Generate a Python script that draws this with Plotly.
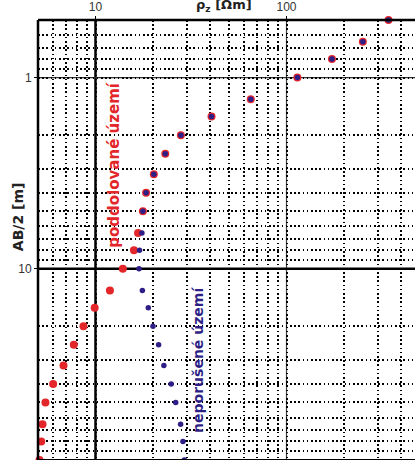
import numpy as np
import plotly.graph_objects as go

# AB/2 [m]
ab2 = [0.5, 0.65, 0.8, 1.0, 1.3, 1.6, 2.0, 2.5, 3.2, 4.0, 5.0, 6.5, 8.0,
       10, 13, 16, 20, 25, 32, 40, 50, 65, 80, 100]
# apparent resistivity, undermined area (red)
rho_poddolovane = [342, 251, 173, 114, 65, 40.5, 28, 23.2, 20.2, 18.4, 17.7, 16.7, 15.9,
                   13.9, 11.9, 9.9, 8.65, 7.7, 6.8, 6.0, 5.47, 5.28, 5.2, 5.09]
# apparent resistivity, undisturbed area (blue)
rho_neporusene = [342, 251, 173, 114, 65, 40.5, 28, 23.2, 20.2, 18.4, 17.7, 17.5, 17.0,
                  16.9, 17.6, 18.9, 20.0, 21.4, 22.8, 24.9, 26.3, 27.9, 28.7, 29.2]

x_ticks = [10, 100]
y_ticks = [1, 10, 100]

RED = "#e3262a"
BLUE = "#2e1f86"

W, H = 415, 460
L, T = 38, 16
PW, PH = W - L, H - T

fig = go.Figure()
fig.add_trace(go.Scatter(x=rho_poddolovane, y=ab2, mode="markers",
                         marker=dict(size=8, color=RED), name="poddolované území",
                         cliponaxis=False))
fig.add_trace(go.Scatter(x=rho_neporusene, y=ab2, mode="markers",
                         marker=dict(size=5.5, color=BLUE), name="neporušené území",
                         cliponaxis=False))

tickfont = dict(family="Liberation Sans", size=12, color="#333333")
dot = "1.6px,2.6px"

fig.update_xaxes(type="log", side="top",
                 range=[np.log10(5), np.log10(5) + PW / 191.0],
                 tickvals=x_ticks, ticktext=[str(v) for v in x_ticks],
                 tickfont=tickfont, ticks="outside", ticklen=3, tickcolor="black",
                 showgrid=False, zeroline=False, showline=False,
                 minor=dict(dtick="D1", showgrid=True, gridcolor="black",
                            griddash=dot, gridwidth=1.5, ticks=""))
fig.update_yaxes(type="log",
                 range=[2, np.log10(0.5)],
                 tickvals=y_ticks, ticktext=[str(v) for v in y_ticks],
                 tickfont=tickfont, ticks="outside", ticklen=3, tickcolor="black",
                 showgrid=False, zeroline=False, showline=False,
                 minor=dict(dtick="D1", showgrid=True, gridcolor="black",
                            griddash=dot, gridwidth=1.5, ticks=""))

shapes = []
# frame: left, top, bottom
shapes.append(dict(type="line", xref="paper", yref="paper", x0=0, x1=0, y0=0, y1=1,
                   line=dict(color="black", width=2.5), layer="above"))
shapes.append(dict(type="line", xref="paper", yref="paper", x0=0, x1=1, y0=1, y1=1,
                   line=dict(color="black", width=2.5), layer="above"))
shapes.append(dict(type="line", xref="paper", yref="paper", x0=0, x1=1, y0=0, y1=0,
                   line=dict(color="black", width=2), layer="above"))
# decade lines
shapes.append(dict(type="line", xref="x", yref="paper", x0=10, x1=10, y0=0, y1=1,
                   line=dict(color="black", width=2.5), layer="below"))
shapes.append(dict(type="line", xref="x", yref="paper", x0=100, x1=100, y0=0, y1=1,
                   line=dict(color="#444444", width=1.2), layer="below"))
shapes.append(dict(type="line", xref="paper", yref="y", x0=0, x1=1, y0=10, y1=10,
                   line=dict(color="black", width=2.5), layer="below"))
shapes.append(dict(type="line", xref="paper", yref="y", x0=0, x1=1, y0=1, y1=1,
                   line=dict(color="#333333", width=1.2), layer="below"))

def px_x(p):
    return (p - L) / PW

def px_y(p):
    return 1 - (p - T) / PH

annotations = [
    dict(text="poddolované území", x=px_x(114), y=px_y(163), xref="paper", yref="paper",
         textangle=-90, showarrow=False, xanchor="center", yanchor="middle",
         font=dict(family="DejaVu Sans", size=15, color=RED, weight="bold")),
    dict(text="neporušené území", x=px_x(198), y=px_y(359), xref="paper", yref="paper",
         textangle=-90, showarrow=False, xanchor="center", yanchor="middle",
         font=dict(family="DejaVu Sans", size=14, color=BLUE, weight="bold")),
    dict(text="AB/2 [m]", x=px_x(18), y=px_y(215), xref="paper", yref="paper",
         textangle=-90, showarrow=False, xanchor="center", yanchor="middle",
         font=dict(family="DejaVu Sans", size=14, color="#222222", weight="bold")),
    dict(text="ρ<sub>z</sub> [Ωm]", x=px_x(224), y=px_y(1), xref="paper", yref="paper",
         showarrow=False, xanchor="center", yanchor="middle",
         font=dict(family="DejaVu Sans", size=13, color="#222222", weight="bold")),
]

fig.update_layout(width=W, height=H, margin=dict(l=L, r=0, t=T, b=0, pad=0),
                  paper_bgcolor="white", plot_bgcolor="white", showlegend=False,
                  shapes=shapes, annotations=annotations)

fig.write_html("out.html")
